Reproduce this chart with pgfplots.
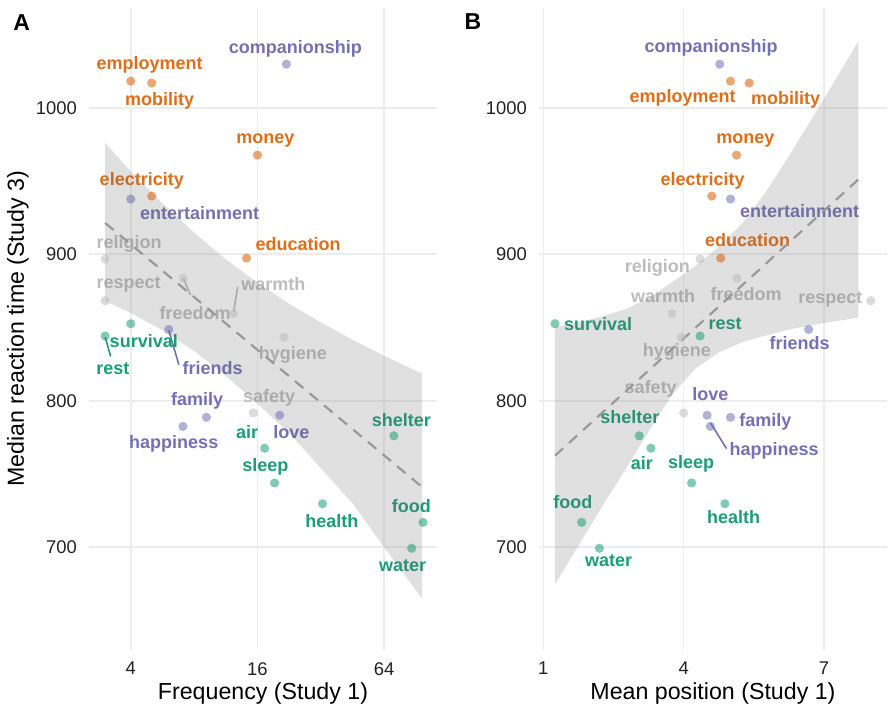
\documentclass[border=0pt]{standalone}
\usepackage{fontspec}
\setmainfont{Liberation Sans}
\usepackage{pgfplots}
\pgfplotsset{compat=1.18}
\definecolor{cor}{HTML}{D95F02}
\definecolor{cpu}{HTML}{7570B3}
\definecolor{cgr}{HTML}{1B9E77}
\definecolor{cgy}{HTML}{BDBDBD}
\definecolor{gridc}{HTML}{EDEDED}
\definecolor{tickc}{HTML}{222222}
\definecolor{smoothc}{HTML}{999999}

\pgfplotsset{
  panel/.style={
    scale only axis, width=173.8pt, height=320.8pt,
    ymin=630, ymax=1068,
    ytick={700,800,900,1000}, yticklabels={700,800,900,1000},
    axis line style={draw=none}, major tick length=0pt,
    grid=major, major grid style={gridc, line width=0.8pt},
    tick label style={font=\fontsize{9.2}{10}\selectfont, text=tickc},
    yticklabel style={anchor=east, inner sep=0pt, xshift=-6pt},
    xticklabel style={anchor=north, inner sep=0pt, yshift=-6pt},
    clip=false,
  },
  pts/.style={only marks, mark=*, mark size=2.3pt, draw=none, fill=#1,
    mark options={draw=none, draw opacity=0, fill=#1, fill opacity=0.55}},
}
\tikzset{
  lab/.style={font=\bfseries\fontsize{9}{10}\selectfont, text=#1, inner sep=0pt},
  band/.style={draw=none, fill=black!60, fill opacity=0.2},
  fit/.style={smoothc, line width=1.1pt, dash pattern=on 5.5pt off 4pt},
}
\colorlet{tor}{cor!90!white}

\begin{document}
\begin{tikzpicture}
% ---------------- Panel A ----------------
\begin{axis}[panel, at={(44.65pt,29.1pt)}, anchor=south west,
  xmode=log, log basis x=2, xmin=2.54, xmax=114,
  xtick={4,16,64}, xticklabels={4,16,64}]
% points
\addplot[pts=cor] coordinates {(4.0,1018.2) (5.03,1016.9) (16.0,967.7) (5.03,939.7) (14.2,897.4)};
\addplot[pts=cpu] coordinates {(21.96,1029.8) (4.0,937.7) (6.06,848.7) (9.15,788.7) (7.08,782.5) (20.4,790.1)};
\addplot[pts=cgr] coordinates {(4.0,852.6) (3.02,844.2) (17.3,767.6) (19.3,743.9) (32.6,729.7) (71.2,776.1) (98.0,717.0) (86.5,699.3)};
\addplot[pts=cgy] coordinates {(3.02,896.7) (3.02,868.3) (7.10,883.7) (12.33,859.5) (21.39,843.4) (15.3,791.7)};
% leader segments
\addplot[cgr, line width=0.8pt] coordinates {(3.02,843.5) (3.21,830.3)};
\addplot[cpu, line width=0.8pt] coordinates {(6.06,848.1) (6.77,824.6)};
\addplot[cgy, line width=0.8pt] coordinates {(7.10,883.7) (7.70,872.1)};
\addplot[cgy, line width=0.8pt] coordinates {(12.88,877.9) (12.33,860.7)};
% labels
\node[lab=cpu] at (axis cs:24.2,1040.1) {companionship};
\node[lab=tor] at (axis cs:4.92,1029.1) {employment};
\node[lab=tor] at (axis cs:5.49,1004.8) {mobility};
\node[lab=tor] at (axis cs:17.46,978.0) {money};
\node[lab=tor] at (axis cs:4.51,950.0) {electricity};
\node[lab=cpu] at (axis cs:8.50,928.1) {entertainment};
\node[lab=tor] at (axis cs:24.99,907.3) {education};
\node[lab=cgy] at (axis cs:3.93,907.3) {religion};
\node[lab=cgy] at (axis cs:3.91,879.7) {respect};
\node[lab=cgy] at (axis cs:19.05,879.7) {warmth};
\node[lab=cgy] at (axis cs:8.09,860.0) {freedom};
\node[lab=cgr] at (axis cs:4.61,840.5) {survival};
\node[lab=cgr] at (axis cs:3.29,821.6) {rest};
\node[lab=cpu] at (axis cs:9.79,822.0) {friends};
\node[lab=cgy] at (axis cs:23.6,831.2) {hygiene};
\node[lab=cpu] at (axis cs:8.26,799.8) {family};
\node[lab=cgy] at (axis cs:18.17,802.0) {safety};
\node[lab=cpu] at (axis cs:6.40,770.6) {happiness};
\node[lab=cgr] at (axis cs:14.27,778.4) {air};
\node[lab=cpu] at (axis cs:23.18,778.4) {love};
\node[lab=cgr] at (axis cs:17.46,754.9) {sleep};
\node[lab=cgr] at (axis cs:77.3,787.1) {shelter};
\node[lab=cgr] at (axis cs:36.1,717.7) {health};
\node[lab=cgr] at (axis cs:86.3,727.9) {food};
\node[lab=cgr] at (axis cs:78.3,687.2) {water};
% smooth
\addplot[band] coordinates {(3.02,976) (4,956.6) (5.66,934.8) (8,914.8) (11.31,896.6) (16,880.6) (22.63,866.2) (32,853.5) (45.25,841.7) (64,830.7) (97,818.5)
 (97,665) (64,700) (45.25,730) (32,754) (22.63,778) (16,798) (11.31,817) (8,834) (5.66,848) (4,860) (3.02,868)};
\addplot[fit] coordinates {(3.02,921.4) (97,741.1)};
\end{axis}

% ---------------- Panel B ----------------
\begin{axis}[panel, at={(269.6pt,29.1pt)}, anchor=south west,
  xmin=0.9125, xmax=8.34,
  xtick={1,4,7}, xticklabels={1,4,7}]
\addplot[pts=cor] coordinates {(5.00,1018.2) (5.40,1016.9) (5.13,967.7) (4.60,939.7) (4.79,897.4)};
\addplot[pts=cpu] coordinates {(4.77,1029.8) (5.00,937.7) (6.67,848.7) (5.00,788.7) (4.57,782.5) (4.50,790.1)};
\addplot[pts=cgr] coordinates {(1.25,852.6) (4.35,844.2) (3.30,767.6) (4.17,743.9) (4.88,729.7) (3.05,776.1) (1.82,717.0) (2.20,699.3)};
\addplot[pts=cgy] coordinates {(4.35,896.7) (8.00,868.3) (5.14,883.7) (3.75,859.5) (3.95,843.4) (4.00,791.7)};
\addplot[cpu, line width=0.8pt] coordinates {(4.575,784.8) (4.916,767.3)};
\node[lab=cpu] at (axis cs:4.585,1040.6) {companionship};
\node[lab=tor] at (axis cs:3.977,1006.5) {employment};
\node[lab=tor] at (axis cs:6.178,1005.3) {mobility};
\node[lab=tor] at (axis cs:5.318,977.7) {money};
\node[lab=tor] at (axis cs:4.404,950.3) {electricity};
\node[lab=cpu] at (axis cs:6.475,929.5) {entertainment};
\node[lab=tor] at (axis cs:5.367,909.7) {education};
\node[lab=cgy] at (axis cs:3.439,891.0) {religion};
\node[lab=cgy] at (axis cs:3.562,871.7) {warmth};
\node[lab=cgy] at (axis cs:5.335,872.6) {freedom};
\node[lab=cgy] at (axis cs:7.133,869.2) {respect};
\node[lab=cgr] at (axis cs:2.172,852.5) {survival};
\node[lab=cgr] at (axis cs:4.886,852.5) {rest};
\node[lab=cpu] at (axis cs:6.475,839.2) {friends};
\node[lab=cgy] at (axis cs:3.855,833.2) {hygiene};
\node[lab=cgy] at (axis cs:3.296,808.4) {safety};
\node[lab=cpu] at (axis cs:4.570,804.4) {love};
\node[lab=cgr] at (axis cs:2.851,789.1) {shelter};
\node[lab=cpu] at (axis cs:5.745,785.3) {family};
\node[lab=cpu] at (axis cs:5.931,766.0) {happiness};
\node[lab=cgr] at (axis cs:3.108,757.5) {air};
\node[lab=cgr] at (axis cs:4.158,757.1) {sleep};
\node[lab=cgr] at (axis cs:1.630,730.9) {food};
\node[lab=cgr] at (axis cs:5.069,720.6) {health};
\node[lab=cgr] at (axis cs:2.397,690.8) {water};
\addplot[band] coordinates {(1.25,850.4) (1.75,853.5) (2.25,857.5) (2.75,862.5) (3.25,870) (3.75,881) (4.25,892) (4.75,905) (5.25,921) (5.75,942.3) (6.25,967.2) (6.75,993.1) (7.25,1019.6) (7.73,1045.3)
 (7.73,856.7) (7.25,854.4) (6.75,851.7) (6.25,848.6) (5.75,844.5) (5.25,840) (4.75,833) (4.25,822) (3.75,804) (3.25,779) (2.75,752.8) (2.25,727.4) (1.75,701.1) (1.25,674.6)};
\addplot[fit] coordinates {(1.25,762.5) (7.85,954.5)};
\end{axis}

% titles
\node[font=\fontsize{11.6}{13}\selectfont, text=black, rotate=90] at (9pt,189.5pt) {Median reaction time (Study 3)};
\node[font=\fontsize{11.6}{13}\selectfont, text=black] at (131.5pt,7.5pt) {Frequency (Study 1)};
\node[font=\fontsize{11.6}{13}\selectfont, text=black] at (356.5pt,7.5pt) {Mean position (Study 1)};
\node[font=\bfseries\fontsize{11.5}{13}\selectfont] at (10.85pt,342.75pt) {A};
\node[font=\bfseries\fontsize{11.5}{13}\selectfont] at (236.5pt,343pt) {B};
\pgfresetboundingbox
\path[use as bounding box] (0,0) rectangle (444.5pt,354pt);
\end{tikzpicture}
\end{document}
